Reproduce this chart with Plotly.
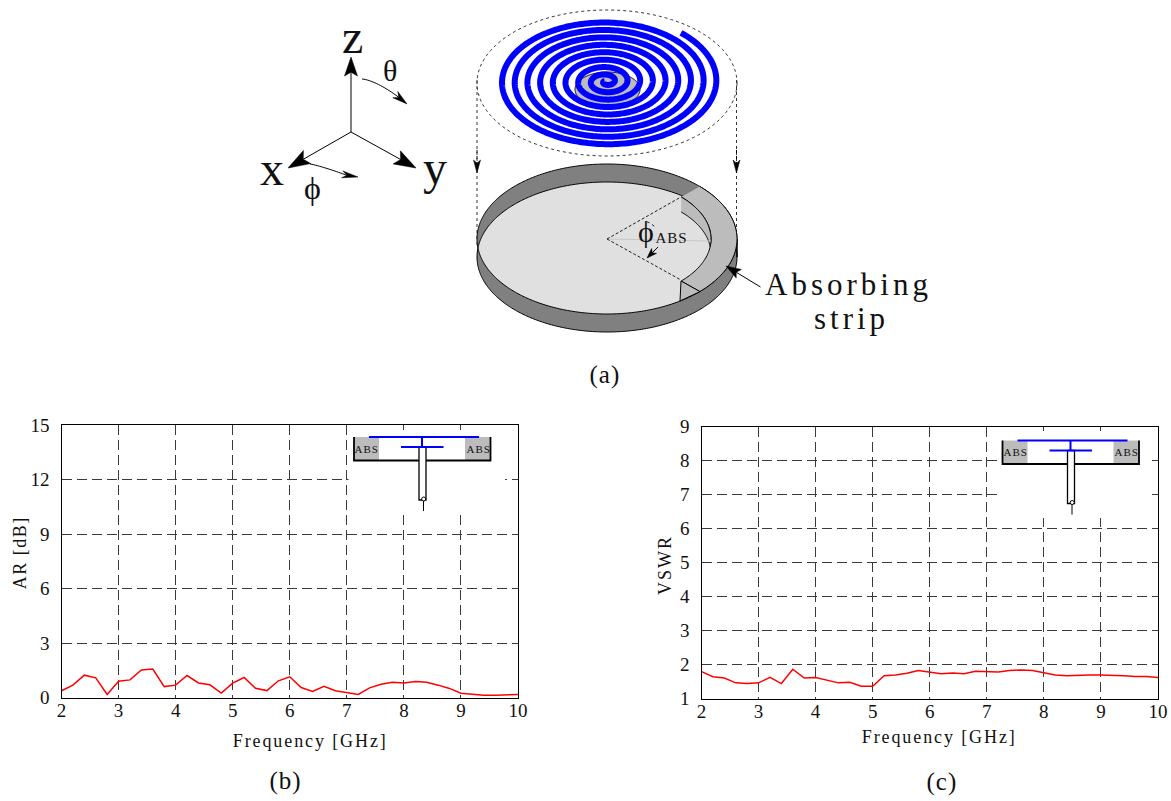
import numpy as np
import plotly.graph_objects as go

FREQ = [2.0,2.2,2.4,2.6,2.8,3.0,3.2,3.4,3.6,3.8,4.0,4.2,4.4,4.6,4.8,5.0,5.2,5.4,5.6,5.8,6.0,
        6.2,6.4,6.6,6.8,7.0,7.2,7.4,7.6,7.8,8.0,8.2,8.4,8.6,8.8,9.0,9.2,9.4,9.6,9.8,10.0]
AR_DB = [0.37,0.68,1.23,1.08,0.17,0.90,0.97,1.52,1.57,0.60,0.68,1.21,0.80,0.70,0.24,0.79,1.10,0.51,0.38,0.92,1.14,
         0.55,0.33,0.62,0.37,0.26,0.17,0.53,0.73,0.84,0.80,0.88,0.84,0.68,0.50,0.24,0.17,0.13,0.13,0.17,0.17]
VSWR = [1.79,1.64,1.60,1.46,1.44,1.46,1.62,1.44,1.86,1.60,1.62,1.53,1.46,1.48,1.36,1.36,1.67,1.69,1.74,1.82,1.78,
        1.73,1.75,1.73,1.80,1.80,1.78,1.82,1.84,1.82,1.76,1.69,1.67,1.69,1.69,1.69,1.69,1.67,1.65,1.65,1.62]
X_TICKS = [2,3,4,5,6,7,8,9,10]
AR_TICKS = [0,3,6,9,12,15]
VSWR_TICKS = [1,2,3,4,5,6,7,8,9]

W, H = 1171, 801
FONT = "Liberation Serif"
BLUE, GREY, WALL, FLOOR = "#0000ff", "#bcbcbc", "#808080", "#e0e0e0"

fig = go.Figure()

def poly(x, y, fill=None, line="black", width=1.0, dash=None):
    fig.add_trace(go.Scatter(
        x=list(x), y=list(y), xaxis="x3", yaxis="y3", mode="lines", hoverinfo="skip", showlegend=False,
        fill="toself" if fill else None, fillcolor=fill,
        line=dict(color=line if line else "rgba(0,0,0,0)", width=width, dash=dash, simplify=False)))

def arrow(x0, y0, x1, y1, length=14, half=5, width=1.0, notch=0.25, dash=None):
    d = np.array([x1 - x0, y1 - y0], float); d /= np.hypot(*d)
    n = np.array([-d[1], d[0]]); tip = np.array([x1, y1], float)
    a, b = tip - d * length + n * half, tip - d * length - n * half
    c = tip - d * length * (1 - notch)
    poly([x0, c[0]], [y0, c[1]], width=width, dash=dash)
    poly([tip[0], a[0], c[0], b[0], tip[0]], [tip[1], a[1], c[1], b[1], tip[1]], fill="black", width=0.5)

def label(x, y, text, size, angle=0):
    fig.add_annotation(x=x, y=y, xref="x3", yref="y3", text=text, showarrow=False, textangle=angle,
                       font=dict(family=FONT, size=size, color="#111"), xanchor="center", yanchor="middle")

# data panels
fig.add_trace(go.Scatter(x=FREQ, y=AR_DB, xaxis="x", yaxis="y", mode="lines", showlegend=False,
                         line=dict(color="#ff0000", width=1.5)))
fig.add_trace(go.Scatter(x=FREQ, y=VSWR, xaxis="x2", yaxis="y2", mode="lines", showlegend=False,
                         line=dict(color="#ff0000", width=1.5)))

# axis triad
O = (351, 132)
arrow(*O, 351, 57, length=19, half=6.5, notch=0.2)
arrow(*O, 288, 168, length=22, half=7.5, notch=0.2)
arrow(*O, 416, 168, length=22, half=7.5, notch=0.2)
t = np.linspace(0, 1, 20)
tx, ty = 362 + 35 * t, 79 + 17 * t ** 1.5
poly(tx, ty)
arrow(tx[-1], ty[-1], 407, 104, length=15, half=4, notch=0.3)
tx, ty = 310 + 36 * t, 164 + 11 * t ** 1.2
poly(tx, ty)
arrow(tx[-1], ty[-1], 358, 177, length=16, half=3.5, notch=0.3)
label(352, 36, "z", 48); label(272, 168, "x", 48); label(435, 167, "y", 48)
label(390, 70, "θ", 30); label(312, 188, "ϕ", 32)

# top disc with spiral
CX, RX, RY = 607, 130, 73
a = np.linspace(0, 2 * np.pi, 240)
poly(CX + RX * np.cos(a), 83 + RY * np.sin(a), line="#333", dash="dot", width=1)
poly(607.5 + 32.5 * np.cos(a), 89.5 + 17.5 * np.sin(a), fill=GREY)
th = np.linspace(np.radians(-48), np.radians(-48) + 2 * np.pi * 8.7, 2400)
r = 112 - 12.7 * (th - th[0]) / (2 * np.pi)
fig.add_trace(go.Scatter(x=606 + r * np.cos(th), y=81.5 + 0.585 * r * np.sin(th), xaxis="x3", yaxis="y3",
                         mode="lines", hoverinfo="skip", showlegend=False,
                         line=dict(color=BLUE, width=6, simplify=False)))

# dotted guides
for gx in (477, 736.5):
    poly([gx, gx], [80, 245], line="#333", dash="dot", width=1)
    arrow(gx, 150, gx, 173, length=13, half=3.5, notch=0.25, dash="dot")

# cavity
CY, DROP, RYC = 239, 18, 75
ux = CX + RX * np.cos(np.linspace(np.pi, 0, 240))
sq = np.sqrt(np.clip(1 - ((ux - CX) / RX) ** 2, 0, 1)) * RYC
poly(np.r_[ux, ux[::-1]], np.r_[CY - sq, CY + DROP + sq[::-1]], fill=WALL)
poly(np.r_[ux, ux[::-1]], np.r_[CY + DROP - sq, CY + sq[::-1]], fill=FLOOR)

T = np.radians(44.5)
ta = np.linspace(-T, T, 80)
poly(np.r_[CX + RX * np.cos(ta), CX + 104 * np.cos(ta[::-1])],
     np.r_[CY + RYC * np.sin(ta), CY + 60 * np.sin(ta[::-1])], fill=GREY)
tw = np.linspace(-T, np.radians(7.2), 50)
ts = np.linspace(np.radians(-7.2), -T, 50)
poly(np.r_[CX + 104 * np.cos(tw), CX + 104 * np.cos(ts)],
     np.r_[CY + 60 * np.sin(tw), CY + 15 + 60 * np.sin(ts)], fill=GREY)
poly([681, 700, 680, 681], [281, 291.6, 301, 281], fill=GREY)
poly([607, 711], [239, 241], line="#c8c8c8", width=1)
poly([607, 681], [239, 197], line="#222", dash="3px,2px", width=1)
poly([607, 681], [239, 280], line="#222", dash="3px,2px", width=1)
poly([646.7, 651, 655], [221.7, 223.5, 227], line="#222", dash="dot", width=1)
arrow(658, 247, 647, 258, length=10, half=3.5)
arrow(760.5, 287, 726, 266, length=15, half=5, notch=0.2)
label(646, 231, "ϕ", 30); label(671, 238, "ABS", 15)
label(848, 284, "Absorbing", 31); label(851, 318, "strip", 31)
label(605, 375, "(a)", 25); label(285, 781, "(b)", 25); label(942, 782, "(c)", 25)

# inset over the grid of each panel
def inset(dx, dy, wx0, wx1, wy0, wy1):
    poly([wx0, wx1, wx1, wx0, wx0], [wy0, wy0, wy1, wy1, wy0], fill="white", line=None, width=0)
    poly(np.array([354, 379, 379, 354, 354]) + dx, np.array([437, 437, 460.5, 460.5, 437]) + dy, fill=GREY, line=None, width=0)
    poly(np.array([465, 490.5, 490.5, 465, 465]) + dx, np.array([437, 437, 460.5, 460.5, 437]) + dy, fill=GREY, line=None, width=0)
    poly(np.array([354, 354, 490.5, 490.5]) + dx, np.array([437, 460.5, 460.5, 437]) + dy, width=1.8)
    poly(np.array([419, 426, 426, 419, 419]) + dx, np.array([447, 447, 500, 500, 447]) + dy, fill="white", width=1.3)
    poly(np.array([423.5, 423.5]) + dx, np.array([498, 511]) + dy, width=1)
    fig.add_trace(go.Scatter(x=[423.7 + dx], y=[499 + dy], xaxis="x3", yaxis="y3", mode="markers", hoverinfo="skip",
                             showlegend=False, marker=dict(size=4, color="white", line=dict(color="black", width=1))))
    poly(np.array([369, 479]) + dx, np.array([437, 437]) + dy, line=BLUE, width=2)
    poly(np.array([401, 443.5]) + dx, np.array([447, 447]) + dy, line=BLUE, width=2)
    poly(np.array([422, 422]) + dx, np.array([437, 447]) + dy, line=BLUE, width=2)
    label(366.7 + dx, 448.5 + dy, "ABS", 11); label(478 + dx, 448.5 + dy, "ABS", 11)

inset(0, 0, 348.5, 505, 430, 515)
inset(648.5, 3.5, 997.5, 1149, 431, 518)

# titles
label(310, 741, "Frequency [GHz]", 18); label(939, 737, "Frequency [GHz]", 18)
label(20, 553, "AR [dB]", 18, -90); label(665, 565, "VSWR", 18, -90)

def axis_common(dom, rng, ticks, standoff):
    return dict(domain=dom, range=rng, tickmode="array", tickvals=ticks, ticktext=[str(v) for v in ticks],
                showgrid=True, gridcolor="#3a3a3a", gridwidth=1.2, griddash="10px,5px", zeroline=False, automargin=False,
                showline=True, mirror=True, linecolor="black", linewidth=1.4, ticks="",
                tickfont=dict(family=FONT, size=19, color="#111"), ticklabelstandoff=standoff)

def xd(a, b): return [a / W, b / W]
def yd(a, b): return [1 - b / H, 1 - a / H]

fig.update_layout(
    width=W, height=H, margin=dict(l=0, r=0, t=0, b=0), paper_bgcolor="white",
    plot_bgcolor="rgba(0,0,0,0)", showlegend=False, hovermode=False,
    xaxis=dict(axis_common(xd(61.5, 518), [2, 10], X_TICKS, -5), anchor="y"),
    yaxis=dict(axis_common(yd(425, 697.5), [0, 15], AR_TICKS, 7), anchor="x"),
    xaxis2=dict(axis_common(xd(701.5, 1158), [2, 10], X_TICKS, -5), anchor="y2"),
    yaxis2=dict(axis_common(yd(426.5, 698.5), [1, 9], VSWR_TICKS, 7), anchor="x2"),
    xaxis3=dict(domain=[0, 1], range=[0, W], visible=False, anchor="y3", fixedrange=True, automargin=False),
    yaxis3=dict(domain=[0, 1], range=[H, 0], visible=False, anchor="x3", fixedrange=True, automargin=False),
)

post = """
document.body.style.margin='0';document.documentElement.style.overflow='hidden';
var sp={'Frequency [GHz]':'1.9px','AR [dB]':'1.5px','VSWR':'2px','Absorbing':'4px','strip':'4px','ABS':'1px','(a)':'1px','(b)':'1px','(c)':'1px'};
document.querySelectorAll('.annotation-text').forEach(function(e){var s=sp[e.textContent];if(s){e.style.letterSpacing=s;}});
"""
fig.write_html("out.html", post_script=post, config={"displayModeBar": False})
